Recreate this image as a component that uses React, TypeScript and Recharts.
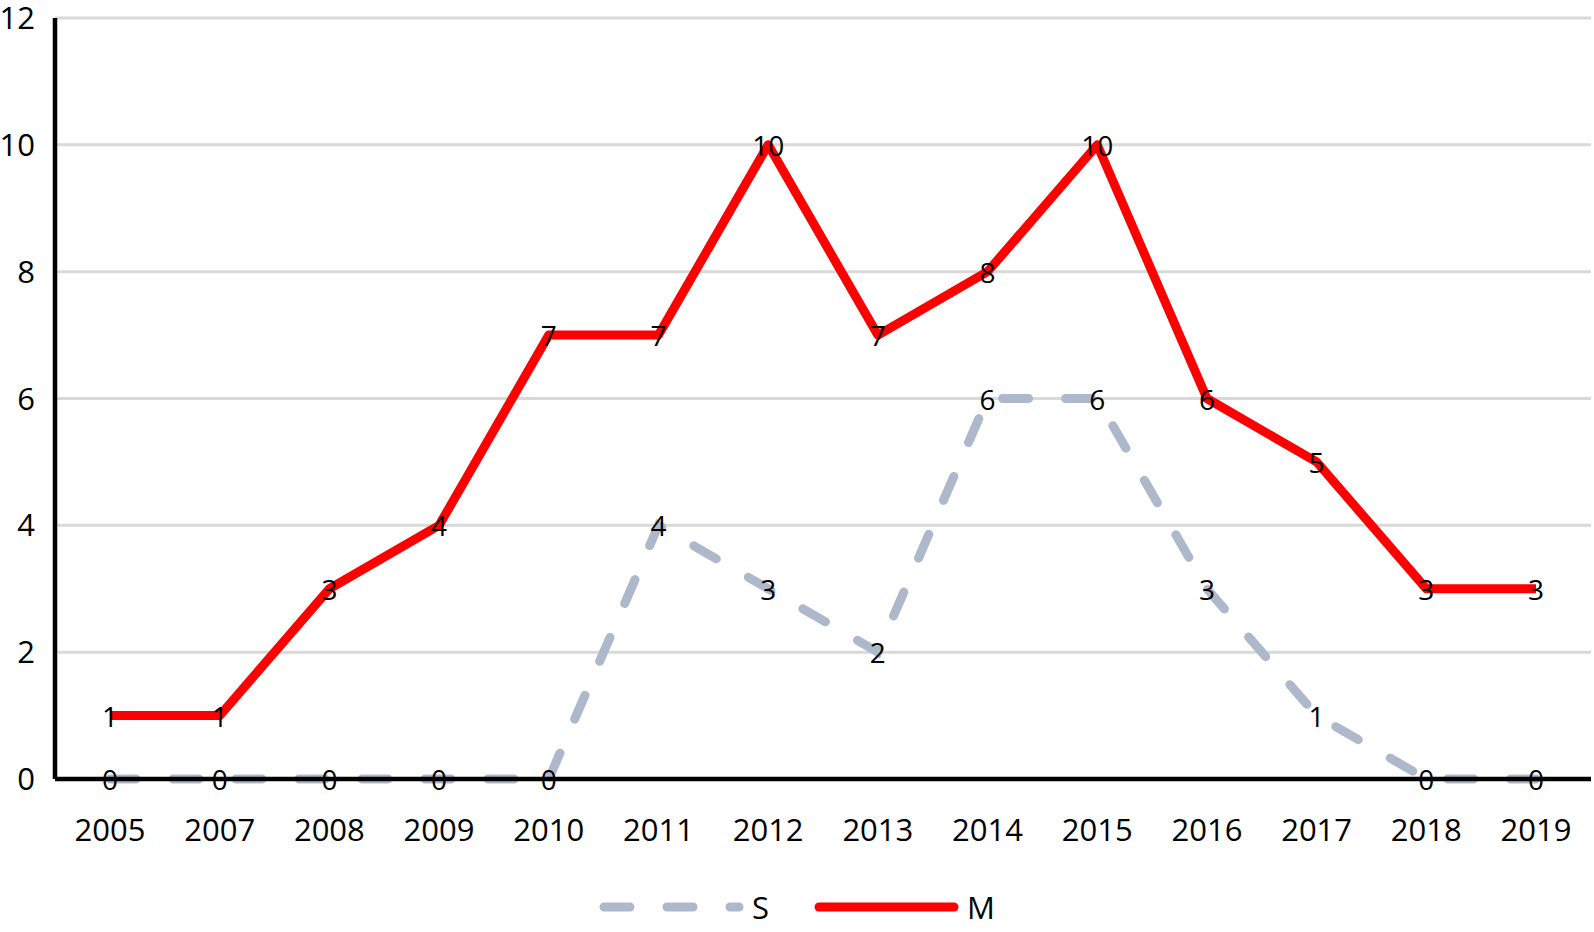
import React from 'react';
import { LineChart, Line, XAxis, YAxis, CartesianGrid, LabelList } from 'recharts';

const years = ['2005', '2007', '2008', '2009', '2010', '2011', '2012', '2013', '2014', '2015', '2016', '2017', '2018', '2019'];
const sValues = [0, 0, 0, 0, 0, 4, 3, 2, 6, 6, 3, 1, 0, 0];
const mValues = [1, 1, 3, 4, 7, 7, 10, 7, 8, 10, 6, 5, 3, 3];
const yTicks = [0, 2, 4, 6, 8, 10, 12];

const data = years.map((y, i) => ({ year: y, S: sValues[i], M: mValues[i] }));

const FONT = '"Open Sans", "Noto Sans", sans-serif';
const GRAY = '#adb9ca';
const RED = '#ff0000';
const DASH = '26 37';

const renderLabel = (props: any) => {
  const { x, y, value } = props;
  return (
    <text x={x} y={y} textAnchor="middle" dominantBaseline="central" fontSize={28} fill="#000" fontFamily={FONT}>
      {value}
    </text>
  );
};

export default function App() {
  return (
    <div style={{ position: 'absolute', left: 0, top: 0, width: 1594, height: 932, background: '#fff', fontFamily: FONT }}>
      <LineChart
        width={1594}
        height={932}
        data={data}
        margin={{ top: 18, right: 3, bottom: 93, left: 0 }}
      >
        <CartesianGrid vertical={false} stroke="#d9d9d9" strokeWidth={3} />
        <XAxis
          dataKey="year"
          padding={{ left: 55, right: 55 }}
          axisLine={{ stroke: '#000', strokeWidth: 4.5 }}
          tickLine={false}
          tickSize={0}
          tickMargin={40}
          height={60}
          interval={0}
          tick={{ fill: '#000', fontSize: 31, fontFamily: FONT }}
        />
        <YAxis
          width={55}
          domain={[0, 12]}
          ticks={yTicks}
          interval={0}
          axisLine={{ stroke: '#000', strokeWidth: 4.5 }}
          tickLine={false}
          tickSize={0}
          tickMargin={20}
          tick={{ fill: '#000', fontSize: 31, fontFamily: FONT }}
        />
        <Line
          type="linear"
          dataKey="S"
          stroke={GRAY}
          strokeWidth={9}
          strokeDasharray={DASH}
          strokeLinecap="round"
          dot={false}
          activeDot={false}
          isAnimationActive={false}
        >
          <LabelList dataKey="S" content={renderLabel} />
        </Line>
        <Line
          type="linear"
          dataKey="M"
          stroke={RED}
          strokeWidth={9}
          strokeLinejoin="round"
          dot={false}
          activeDot={false}
          isAnimationActive={false}
        >
          <LabelList dataKey="M" content={renderLabel} />
        </Line>
      </LineChart>
      <div
        style={{
          position: 'absolute',
          left: 0,
          top: 887,
          width: 1594,
          height: 40,
          display: 'flex',
          justifyContent: 'center',
          alignItems: 'center',
          fontSize: 31,
          color: '#000',
        }}
      >
        <div style={{ display: 'flex', alignItems: 'center' }}>
          <svg width={145} height={30}>
            <line x1={5} y1={15} x2={140} y2={15} stroke={GRAY} strokeWidth={9} strokeDasharray={DASH} strokeLinecap="round" />
          </svg>
          <span style={{ marginLeft: 8 }}>S</span>
        </div>
        <div style={{ display: 'flex', alignItems: 'center', marginLeft: 45 }}>
          <svg width={145} height={30}>
            <line x1={5} y1={15} x2={140} y2={15} stroke={RED} strokeWidth={9} strokeLinecap="round" />
          </svg>
          <span style={{ marginLeft: 8 }}>M</span>
        </div>
      </div>
    </div>
  );
}
